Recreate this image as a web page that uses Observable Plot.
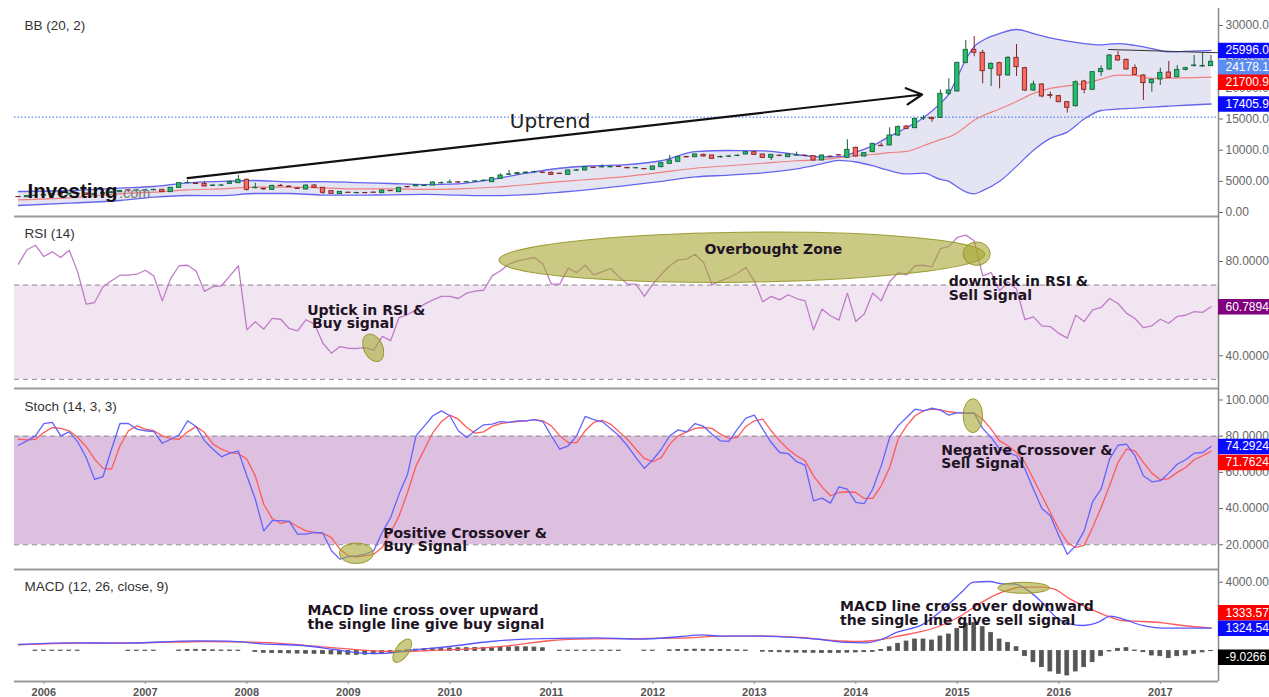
<!DOCTYPE html>
<html><head><meta charset="utf-8">
<script src="https://cdn.jsdelivr.net/npm/d3@7"></script>
<script src="https://cdn.jsdelivr.net/npm/@observablehq/plot@0.6"></script>
<style>
html,body{margin:0;padding:0;background:#fff;}
#chart{position:relative;width:1269px;height:697px;overflow:hidden;background:#fff;}
#chart svg{position:absolute;left:0;overflow:visible;}
</style></head><body><div id="chart"></div>
<script>
// ---------------- DATA (monthly, index 0 = Oct 2005) ----------------
const yearTicks = [3,15,27,39,51,63,75,87,99,111,123,135];
const yearLabels = ["2006","2007","2008","2009","2010","2011","2012","2013","2014","2015","2016","2017"];

const open = [2500,2454,2620,2700,2840,2950,2880,3020,3050,2800, 2950,3100,3250,3560,3520,3540,3560,3636,3262,3957, 4700,4650,4598,4250,4300,4598,4705,5240,3900,3800, 3636,4277,4150,3850,3690,4331,3957,3422,2940,3180, 3100,3120,3200,3102,3480,3262,4100,4200,4250,4331, 4680,4780,4850,4820,4940,5060,4860,5400,6050,6150, 6300,6450,6400,6362,6230,6042,6700,6737,7200,7240, 7250,7350,7150,7100,6980,6844,7272,7806,8127,8900, 8876,9250,9143,8850,8950,9060,9303,9677,9303,8770, 9120,8876,9120,9110,9036,8341,8960,9200,8770,10375, 8982,9677,10700,10747,12351,13794,13529,15080,15182,15182, 19035,19408,23954,26093,25611,23045,23954,21975,24810,23152, 19569,20531,18820,18660,17695,17053,21012,19677,22510,22937, 25075,24488,23152,21975,20745,21333,22456,21707,22884,23500, 23420,23472];
const high = [2560,2680,2780,2900,3050,3000,3100,3080,3080,3000, 3150,3300,3500,3600,3650,3680,3750,3700,4000,4800, 5133,4750,4970,4500,4500,5133,5935,5400,4705,3900, 4350,4500,4250,3950,4400,4450,4000,3500,3350,3250, 3250,3250,3280,3600,3550,4050,4200,4450,4400,4900, 4900,5240,4950,5000,5150,5250,5600,6202,6737,6450, 6550,6650,6500,6500,6300,6800,6900,7350,7300,7646, 7400,7450,7250,7250,7050,7450,8000,9143,8950,9000, 9400,9350,9200,9050,9150,9250,9750,9750,9350,9300, 9200,9400,9677,9200,9100,9200,9050,9300,11660,10500, 9600,11100,11123,13583,13900,13900,15100,15559,15250,19677, 21440,24100,27589,28230,26000,24000,24100,25000,26947,23300, 21066,20700,19300,18800,17800,21100,21200,22600,23526,25300, 25824,24600,23686,22100,21400,23152,24220,23579,23300,25183, 25557,25183];
const low = [2400,2420,2580,2650,2800,2800,2820,2850,2750,2750, 2900,3050,3200,3450,3420,3440,3500,3200,3200,3900, 4600,4500,4100,4150,4200,4550,4650,3422,3800,3600, 3550,4150,4000,3700,3650,3900,2887,2950,2900,3050, 3000,3000,3100,3050,3350,3200,3950,4150,4200,4300, 4550,4700,4700,4720,4850,4950,4800,5350,5950,6050, 6200,6300,6250,5950,6100,6000,6600,6700,7050,7150, 7150,7200,7000,6950,6850,6800,7200,7750,8050,8750, 8800,8900,8550,8700,8800,8950,9250,9200,8700,8341, 8950,8800,9000,8950,8250,8300,8800,9050,8700,8900, 8900,9600,10550,10700,12200,13300,13450,14757,14489,15100, 18767,19300,23900,25000,20638,20210,19837,21900,21814,19400, 19400,18400,18232,17600,15930,16900,19035,19600,21814,22850, 24300,22850,22000,17965,19300,20371,21500,21600,22700,23300, 23300,23400];
const close = [2454,2620,2700,2840,2950,2880,3020,2930,2800,2950, 3100,3250,3450,3500,3540,3560,3620,3262,3957,4705, 4720,4560,4170,4330,4340,4865,5240,3636,3960,3700, 4277,4220,4070,3780,4331,3957,3155,2994,3315,3130, 3120,3100,3150,3529,3420,3957,4050,4380,4331,4812, 4720,4830,4790,4870,4990,5100,5502,5935,6120,6309, 6400,6480,6340,6042,6180,6737,6760,7272,7150,7290, 7300,7300,7090,7120,6940,7378,7913,8341,8876,8850, 9303,8982,8608,8900,9000,9110,9677,9250,8770,9250, 9060,9303,9160,9060,8341,9143,8900,9143,10053,8982, 9517,11016,10642,12351,13690,13420,15022,15129,14970,19035, 19569,24008,26093,25611,22670,23847,21975,24810,23312,19569, 20531,18606,18700,17695,16790,20905,19677,22510,22991,25183, 24381,22937,22082,20745,21279,22403,21600,22884,23152,23579, 23500,24178.10];

// Bollinger bands read at these month indices
const bandIdx = [0,6,12,16,20,24,28,32,36,40,44,48,52,56,60,64,68,72,76,80,84,88,92,95,97,99,101,103,105,107,109,110,111,112,113,114,116,118,120,122,124,126,128,130,132,134,136,138,141];
const bandUpper = [3368,3529,3904,4170,4758,4990,5133,4900,4960,4800,4650,4480,4600,5300,6300,7100,7480,7680,8300,9750,9944,9900,9300,8900,8950,9700,10700,12200,13600,15200,17500,19000,21700,24500,26600,27600,28700,29350,28700,28000,27500,27100,26900,27100,26800,26300,25750,25850,25996.00];
const bandMiddle = [2032,2353,2994,3262,3636,3797,4063,4063,3957,3797,3797,3720,3800,4050,4450,4950,5350,5800,6450,7100,7500,7900,8300,8500,8800,9100,9300,9600,9800,10700,11700,12100,12800,13800,14800,15500,16600,17800,19100,19900,20300,20700,21400,22050,22000,21500,21550,21600,21700.95];
const bandLower = [1123,1497,1925,2459,2727,2700,3050,3050,2800,2790,2834,2900,2780,2700,2860,3250,3750,4350,5000,5700,5990,6350,7000,7800,8350,8100,7500,6700,6200,6300,5300,5000,4100,3300,2994,3500,5000,7400,10000,11900,12900,15000,16360,16600,16750,16900,17050,17200,17405.91];

const rsi = [78.9,85,86.9,82.1,84.1,81.7,84.8,75.6,61.9,62.6, 69.3,71.8,74.2,74.2,74.6,76.3,73.9,63.3,72.8,78.2, 78.4,76,67.3,69.3,69.7,73.9,78.2,51,54.4,51.3, 55.9,55.5,51.6,50.6,55.3,53.4,45.3,41.1,43.9,43.2, 43.1,43.5,42.4,48.2,46.4,56.2,57.5,59.5,61.9,63.7, 65.2,65.2,64.3,66.6,67.4,67.8,73.9,76.1,78.9,80.3, 81,81.7,78.9,70.4,70.4,77.2,75.3,78.4,74.3,75.6, 77,73.5,70.4,70.4,65.2,70.4,74.6,78.2,80.7,81, 83.1,79.6,70.1,71.8,73.2,75,77.5,71.8,62.9,65.2, 63.7,65.9,64.3,63.3,51,59.8,57,55.1,66.6,54.5, 57.7,66.6,63.3,71.4,75.3,74.3,78.2,78.4,77.7,85.5, 86.4,90.2,91.2,88.8,73.9,75.3,67.6,71.4,68.3,55.3, 56.5,52.7,52.4,49.5,47.5,57.2,54.5,59.5,60.5,64.3, 62.2,58.1,55.8,51.9,52.7,55.5,53.8,56.7,57.2,58.7, 58.4,60.7894];

const stochK = [75,77.4,80.2,87,87.6,80.2,82.4,76.9,68.2,56.2, 57.7,72.8,87,87,83.9,83,82.6,76.1,78.3,80.8, 88.5,85.4,77.4,72.8,68.6,70.6,71.7,58.1,45.2,27.7, 33.3,33.3,32.9,25.9,25.9,26.8,26.4,16.7,12.1,13.5, 13.9,14.8,16.7,26.8,35.1,48,59,80.2,85.7,91.3, 94,91.3,83,79.3,83,86.3,86.7,88,87.6,88.5, 88.5,89.1,88.1,80.2,72.8,74.7,80.2,90.9,89.1,88.1, 84.3,80.2,74.7,68.2,62.2,67,72.8,80.2,83.5,82.4, 87,85.4,81.1,77.4,77.1,83.9,90,91.6,83.9,76.5, 71,70.4,65.9,64,44.3,45.8,43,52,50.7,43.4, 42.8,50.7,63.6,79.3,85.7,90.3,94.9,94,95.5,94.4, 91.6,93,92.7,92.7,84.3,79.3,72.8,71,69.2,61.8, 50.7,40,36,25,14.8,19.4,27.7,43.8,50.7,67.3, 75,75.6,69.2,58.1,54.8,55.4,59.6,64.5,67,70.6, 71,74.2924];
const stochD = [78.3,78,78.3,82,84.8,84.3,83,79.3,74.3,67.3, 62.2,61.8,74.7,83,85.7,83.9,83,80.2,78.7,78.3, 82.4,85.4,82,75.6,72.8,71,70.4,67.3,58.1,42.4, 34.5,31.8,32.9,30.1,27.7,26.8,26.4,24,17.6,13.9, 13.4,13.9,14.8,18.5,26.8,36,48.9,63.6,72.8,82, 88.1,91.6,89.4,84.8,81.7,82.4,85.4,87,87.6,88, 88.5,89.1,88.5,85.7,80.2,76.5,76.5,83,87.6,88.8, 86.7,82.4,78.3,72.8,67.7,65.9,68.2,75.6,80.2,82.4, 84.3,84.8,84.3,81.1,78.7,79.3,85.4,88.5,89.4,83, 77.4,72.8,69.2,66.4,58.1,52,47.1,48.9,49.3,48.9, 45.6,45.6,52.6,62.7,78.3,85.7,91.3,94,94.9,94.6, 93.5,93,92.7,92.7,89.4,83.9,77.4,74.7,71,65.5, 56.2,47.1,37.8,28.6,21.3,18.5,19.8,29.6,40.6,52.6, 65.5,72.8,71.9,65.5,59.6,55.9,56.6,60,62.7,67, 69.2,71.7624];

const macdIdx = [0,5.6,12.3,21,24.9,28.8,33.6,37.4,40.3,42.3,44.2,46.1,51,55.8,60.6,65.4,68.3,73.5,78.3,80.9,83,87.8,90.2,94.9,97.3,100.1,102,103.9,106.8,109.6,111.5,112.9,114.8,116.3,117.7,119.1,121,122.9,124.3,125.8,127.7,129.1,130.5,132.9,135.3,141];
const macdVal = [378,475,455,591,572,417,320,87,-106,-145,-106,29,262,552,707,746,765,688,843,940,862,862,824,669,514,475,669,1095,1521,2548,3420,4000,4041,3905,3905,3614,2839,1870,1580,1483,1677,2025,1870,1483,1326,1324.544];
const signalIdx = [0,7.5,14.8,22,27.8,31.7,36.5,40.3,43.7,46.1,48.5,53.4,58.2,63,67.8,73.5,78.3,83,87.8,92.5,96.3,99.2,102,104.4,106.8,109.1,111.5,113.9,116.3,118.6,121,122.4,124.3,126.7,129.1,130.5,132.9,135.3,137.6,141];
const signalVal = [358,455,475,552,514,417,223,68,-29,-29,29,126,320,610,707,725,746,862,882,785,610,552,669,901,1134,1483,2064,2839,3420,3711,3711,3614,3033,2452,1967,1773,1715,1638,1483,1333.570];
const hist = [null,null,25,25,25,25,25,25,null,null, null,null,null,25,25,25,25,null,null,30, 60,70,60,40,30,30,25,null,-60,-105, -115,-125,-140,-150,-160,-163,-180,-200,-205,-215, -221,-215,-190,-165,-110,-70,40,80,110,130, 140,150,160,165,170,180,190,200,210,220, 215,200,160,null,25,25,25,25,25,25, 25,25,null,null,25,25,null,40,55,70, 80,75,65,55,45,40,30,null,-40,-60, -75,-85,-95,-100,-105,-110,-110,-105,-95,-85, -70,-50,60,221,419,552,669,669,610,843, 959,1289,1580,1639,1384,1056,669,475,221,-301, -651,-940,-1192,-1328,-1424,-1192,-940,-651,-301,-30, 126,165,30,-70,-262,-301,-417,-301,-262,-165, -80,-9.0266];

// annotation anchors (month index, value)
const supportLevel = 15300;
const rsiZone = [30, 70], stochZone = [20, 80];
const trendArrow = {i1: 20.0, v1: 5502, i2: 106.85, v2: 18927};
const resistance = [{i: 128.9, v: 26145}, {i: 141.88, v: 25616}];

// ---------------- LAYOUT ----------------
const W = 1269, ML = 14, MR = 51;
const X_DOMAIN = [-0.47, 141.88];
const chart = document.getElementById("chart");
const NARROW = "'Liberation Sans Narrow', 'Arial Narrow', 'Liberation Sans', Arial, sans-serif";

const candles = close.map((c, i) => ({i, o: open[i], h: high[i], l: low[i], c, up: c >= open[i]}));
const bands = bandIdx.map((i, k) => ({i, u: bandUpper[k], m: bandMiddle[k], l: bandLower[k]}));
const rsiData = rsi.map((v, i) => ({i, v}));
const kData = stochK.map((v, i) => ({i, v}));
const dData = stochD.map((v, i) => ({i, v}));
const macdData = macdIdx.map((i, k) => ({i, v: macdVal[k]}));
const sigData = signalIdx.map((i, k) => ({i, v: signalVal[k]}));
const histData = hist.map((v, i) => ({i, v})).filter(d => d.v !== null);

const GF = "#22c06d", GS = "#16603a", RF = "#fb6b5e", RS = "#7e2424";
const ANN = {fontFamily: "'DejaVu Sans', Verdana, sans-serif", fontWeight: "bold", fontSize: 14, fill: "#1e1424", textAnchor: "start", lineAnchor: "bottom", lineHeight: 0.96};

function ellipses(list) {
  return (index, scales) => {
    const sx = scales.x, sy = scales.y;
    const g = d3.create("svg:g");
    for (const e of list) {
      const cx = sx(e.i), cy = sy(e.v);
      g.append("ellipse").attr("cx", cx).attr("cy", cy).attr("rx", e.rx).attr("ry", e.ry)
        .attr("transform", `rotate(${e.rot || 0} ${cx} ${cy})`)
        .attr("fill", "#a6a632").attr("fill-opacity", 0.6)
        .attr("stroke", "#8f8f1c").attr("stroke-opacity", 0.85).attr("stroke-width", 1);
    }
    return g.node();
  };
}
function title(t, dy) {
  return Plot.text([t], {frameAnchor: "top-left", dx: 10, dy, lineAnchor: "bottom", textAnchor: "start", fill: "#333", fontSize: 13.5});
}
function rightAxis(ticks, digits) {
  return Plot.axisY(ticks, {anchor: "right", label: null, tickFormat: d => d.toFixed(digits), tickSize: 4, tickPadding: 3, color: "#666", fontSize: 12, fontFamily: NARROW});
}
function valueLabels(list) {
  return list.flatMap(d => [
    Plot.ruleY([d.v], {stroke: d.c, strokeWidth: 15.5, insetLeft: W - ML - MR, insetRight: -MR, dy: d.dy}),
    Plot.text([d], {y: "v", text: e => e.v.toFixed(e.digits), frameAnchor: "right", dx: 7, dy: d.dy, textAnchor: "start", fill: "white", fontSize: 12, fontFamily: NARROW})
  ]);
}
function edgeRule(extra = {}) {
  return Plot.ruleX([X_DOMAIN[1]], {stroke: "#888", strokeWidth: 1.5, ...extra});
}
function panel(top, height, yDomain, marks, marginBottom = 0) {
  const svg = Plot.plot({
    width: W, height, marginLeft: ML, marginRight: MR, marginTop: 0, marginBottom,
    x: {type: "linear", domain: X_DOMAIN, axis: null},
    y: {type: "linear", domain: yDomain, axis: null},
    color: {type: "identity"},
    style: {fontFamily: "'Liberation Sans', Arial, sans-serif", fontSize: "11.5px", color: "#666", overflow: "visible", background: "transparent"},
    marks
  });
  svg.style.top = top + "px";
  chart.appendChild(svg);
}

// ---------------- BB PANEL ----------------
const bbDomain = [-641.6, 34005];
panel(0, 216, bbDomain, [
  Plot.areaY(bands, {x: "i", y1: "l", y2: "u", fill: "#e4e4f2", curve: "monotone-x"}),
  Plot.ruleY([supportLevel], {stroke: "#2f62f5", strokeDasharray: "1.5,2", strokeWidth: 1}),
  Plot.line(bands, {x: "i", y: "u", stroke: "#6464f0", strokeWidth: 1.3, curve: "monotone-x"}),
  Plot.line(bands, {x: "i", y: "l", stroke: "#6464f0", strokeWidth: 1.3, curve: "monotone-x"}),
  Plot.line(bands, {x: "i", y: "m", stroke: "#ee8080", strokeWidth: 1.2, curve: "monotone-x"}),
  Plot.ruleX(candles, {x: "i", y1: "l", y2: "h", stroke: d => d.up ? GS : RS, strokeWidth: 1}),
  Plot.rect(candles, {x1: d => d.i - 0.5, x2: d => d.i + 0.5, y1: "o", y2: "c", insetLeft: 2.1, insetRight: 2.1,
    fill: d => d.up ? GF : RF, stroke: d => d.up ? GS : RS, strokeWidth: 0.9}),
  Plot.line(resistance, {x: "i", y: "v", stroke: "#333", strokeWidth: 1.1}),
  Plot.arrow([trendArrow], {x1: "i1", y1: "v1", x2: "i2", y2: "v2", stroke: "#111", strokeWidth: 2.2, headLength: 12, headAngle: 55}),
  Plot.text(["Uptrend"], {x: [62.86], y: [13554], lineAnchor: "bottom", textAnchor: "middle", fontSize: 20, fill: "#222", fontFamily: "'DejaVu Sans', Verdana, sans-serif"}),
  Plot.text(["Investing"], {frameAnchor: "top-left", dx: 13, dy: 197, lineAnchor: "bottom", textAnchor: "start", fontSize: 20.5, fontWeight: "bold", fill: "#111"}),
  Plot.text([".com"], {frameAnchor: "top-left", dx: 104.5, dy: 197, lineAnchor: "bottom", textAnchor: "start", fontSize: 14.5, fill: "#7a7a7a"}),
  title("BB (20, 2)", 29.5),
  rightAxis([0, 5000, 10000, 15000, 20000, 25000, 30000], 2),
  edgeRule({insetTop: 8}),
  ...valueLabels([
    {v: bandUpper[bandUpper.length - 1], c: "#0a0aff", dy: 0, digits: 2},
    {v: close[close.length - 1], c: "#5d8cf0", dy: 5.4, digits: 2},
    {v: bandMiddle[bandMiddle.length - 1], c: "#ff0000", dy: 5, digits: 2},
    {v: bandLower[bandLower.length - 1], c: "#0a0aff", dy: 0, digits: 2}
  ])
]);

// ---------------- RSI PANEL ----------------
const rsiDomain = [26.12, 99.09];
panel(216, 172, rsiDomain, [
  Plot.rect([{y1: rsiZone[0], y2: rsiZone[1]}], {x1: X_DOMAIN[0], x2: X_DOMAIN[1], y1: "y1", y2: "y2", fill: "#f1e5f1"}),
  Plot.ruleY(rsiZone, {stroke: "#8a8a8a", strokeDasharray: "5,4", strokeWidth: 1}),
  Plot.line(rsiData, {x: "i", y: "v", stroke: "#c07cc9", strokeWidth: 1.3}),
  ellipses([
    {i: 85.6, v: 81.6, rx: 243, ry: 25, rot: -0.7},
    {i: 113.35, v: 83.1, rx: 13.5, ry: 11.7},
    {i: 42.0, v: 43.17, rx: 9.5, ry: 14.5, rot: -25}
  ]),
  Plot.text(["Uptick in RSI &\n Buy signal"], {x: [34.13], y: [51.74], ...ANN}),
  Plot.text(["Overbought Zone"], {x: [81.1], y: [83.27], ...ANN}),
  Plot.text(["downtick in RSI &\nSell Signal"], {x: [109.99], y: [63.75], ...ANN}),
  title("RSI (14)", 21.5),
  rightAxis([40, 60, 80], 4),
  Plot.ruleY([rsiDomain[1]], {stroke: "#9a9a9a", strokeWidth: 2}),
  edgeRule(),
  ...valueLabels([{v: rsi[rsi.length - 1], c: "#800080", dy: 0, digits: 4}])
]);

// ---------------- STOCH PANEL ----------------
const stochDomain = [6.35, 106.35];
panel(388, 181, stochDomain, [
  Plot.rect([{y1: stochZone[0], y2: stochZone[1]}], {x1: X_DOMAIN[0], x2: X_DOMAIN[1], y1: "y1", y2: "y2", fill: "#ddbfdf"}),
  Plot.ruleY(stochZone, {stroke: "#8a8a8a", strokeDasharray: "5,4", strokeWidth: 1}),
  Plot.line(dData, {x: "i", y: "v", stroke: "#ff5a5a", strokeWidth: 1.3}),
  Plot.line(kData, {x: "i", y: "v", stroke: "#6363ff", strokeWidth: 1.3}),
  ellipses([
    {i: 40.0, v: 15.03, rx: 17, ry: 10.3},
    {i: 112.9, v: 91.05, rx: 9.7, ry: 17}
  ]),
  Plot.text(["Positive Crossover &\nBuy Signal"], {x: [43.12], y: [16.3], ...ANN}),
  Plot.text(["Negative Crossover &\nSell Signal"], {x: [109.09], y: [62.4], ...ANN}),
  title("Stoch (14, 3, 3)", 22),
  rightAxis([20, 40, 60, 80, 100], 4),
  Plot.ruleY([stochDomain[1]], {stroke: "#9a9a9a", strokeWidth: 2}),
  edgeRule(),
  ...valueLabels([
    {v: stochK[stochK.length - 1], c: "#0a0aff", dy: 0, digits: 4},
    {v: stochD[stochD.length - 1], c: "#ff0000", dy: 11.5, digits: 4}
  ])
]);

// ---------------- MACD PANEL ----------------
const macdDomain = [-1773, 4738];
panel(569, 128, macdDomain, [
  Plot.rect(histData, {x1: d => d.i - 0.5, x2: d => d.i + 0.5, y1: 0, y2: "v", insetLeft: 2.3, insetRight: 2.3, fill: "#555", stroke: "#555", strokeWidth: 0.8}),
  Plot.line(sigData, {x: "i", y: "v", stroke: "#ff5a5a", strokeWidth: 1.3, curve: "monotone-x"}),
  Plot.line(macdData, {x: "i", y: "v", stroke: "#5757ff", strokeWidth: 1.3, curve: "monotone-x"}),
  ellipses([
    {i: 45.44, v: -12, rx: 6.5, ry: 13.5, rot: 35},
    {i: 118.9, v: 3645, rx: 25.8, ry: 5.5}
  ]),
  Plot.text(["MACD line cross over upward\nthe single line give buy signal"], {x: [34.17], y: [1291], ...ANN}),
  Plot.text(["MACD line cross over downward\nthe single line give sell signal"], {x: [97.14], y: [1523], ...ANN}),
  title("MACD (12, 26, close, 9)", 21.5),
  rightAxis([2000, 4000], 3),
  Plot.axisX(yearTicks, {anchor: "bottom", label: null, tickFormat: d => yearLabels[yearTicks.indexOf(d)], tickSize: 3, tickPadding: 4, stroke: "#888", fill: "#555", fontWeight: "bold", fontSize: 11}),
  Plot.ruleY([macdDomain[1]], {stroke: "#9a9a9a", strokeWidth: 2}),
  Plot.ruleY([macdDomain[0]], {stroke: "#9a9a9a", strokeWidth: 2}),
  edgeRule(),
  ...valueLabels([
    {v: signalVal[signalVal.length - 1], c: "#ff0000", dy: -15.3, digits: 3},
    {v: macdVal[macdVal.length - 1], c: "#0a0aff", dy: 0, digits: 3},
    {v: hist[hist.length - 1], c: "#000000", dy: 6, digits: 4}
  ])
], 16);
</script></body></html>
